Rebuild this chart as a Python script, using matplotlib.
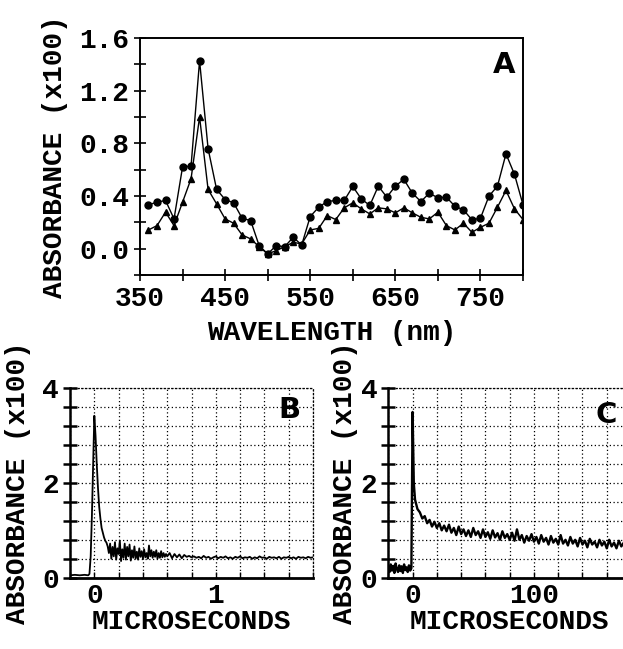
import matplotlib
matplotlib.use("Agg")
import matplotlib.pyplot as plt
from matplotlib.ticker import MultipleLocator, FixedLocator

# panel A: transient spectrum (two series)
wavelength = [360, 370, 380, 390, 400, 410, 420, 430, 440, 450, 460, 470, 480, 490, 500,
              510, 520, 530, 540, 550, 560, 570, 580, 590, 600, 610, 620, 630, 640, 650,
              660, 670, 680, 690, 700, 710, 720, 730, 740, 750, 760, 770, 780, 790, 800]
abs_circles = [0.333, 0.353, 0.366, 0.226, 0.62, 0.627, 1.427, 0.76, 0.45, 0.373, 0.348, 0.231,
               0.213, 0.023, -0.04, 0.023, 0.015, 0.086, 0.028, 0.244, 0.315, 0.358, 0.366,
               0.366, 0.472, 0.378, 0.328, 0.475, 0.391, 0.475, 0.526, 0.421, 0.358, 0.421,
               0.386, 0.391, 0.322, 0.295, 0.219, 0.231, 0.399, 0.475, 0.72, 0.564, 0.333]
abs_triangles = [0.142, 0.175, 0.277, 0.175, 0.353, 0.531, 1.0, 0.45, 0.34, 0.226, 0.193, 0.104,
                 0.074, 0.015, -0.04, -0.015, 0.015, 0.048, 0.036, 0.142, 0.154, 0.251, 0.221,
                 0.31, 0.348, 0.302, 0.264, 0.31, 0.302, 0.272, 0.31, 0.272, 0.238, 0.226,
                 0.277, 0.175, 0.142, 0.193, 0.124, 0.162, 0.193, 0.315, 0.442, 0.302, 0.221]
a_xticks = [350, 450, 550, 650, 750]
a_xminor = [400, 500, 600, 700, 800]

# panel B: fast trace (microseconds)
b_time = [-0.20, -0.16, -0.12, -0.08, -0.05, -0.04, -0.03, -0.02, -0.01, 0.00,
          0.01, 0.02, 0.03, 0.04, 0.05, 0.06, 0.07, 0.08, 0.09, 0.10, 0.11, 0.12,
          0.13, 0.14, 0.15, 0.16, 0.17, 0.18, 0.19, 0.20, 0.21, 0.22, 0.23, 0.24,
          0.25, 0.26, 0.27, 0.28, 0.29, 0.30, 0.31, 0.32, 0.33, 0.34, 0.35, 0.36,
          0.37, 0.38, 0.39, 0.40, 0.41, 0.42, 0.43, 0.44, 0.45, 0.46, 0.47, 0.48,
          0.49, 0.50, 0.51, 0.52, 0.53, 0.54, 0.55, 0.56, 0.57, 0.58, 0.59, 0.60,
          0.62, 0.64, 0.66, 0.68, 0.70, 0.72, 0.74, 0.76, 0.78, 0.80,
          0.82, 0.84, 0.86, 0.88, 0.90, 0.92, 0.94, 0.96, 0.98, 1.00,
          1.02, 1.04, 1.06, 1.08, 1.10, 1.12, 1.14, 1.16, 1.18, 1.20,
          1.22, 1.24, 1.26, 1.28, 1.30, 1.32, 1.34, 1.36, 1.38, 1.40,
          1.42, 1.44, 1.46, 1.48, 1.50, 1.52, 1.54, 1.56, 1.58, 1.60,
          1.62, 1.64, 1.66, 1.68, 1.70, 1.72, 1.74, 1.76, 1.78, 1.80]
b_abs = [0.05, 0.06, 0.05, 0.06, 0.05, 0.08, 0.45, 1.3, 2.4, 3.42,
         3.0, 2.4, 1.9, 1.5, 1.25, 1.05, 0.95, 0.85, 0.78, 0.74, 0.66, 0.52,
         0.72, 0.40, 0.65, 0.45, 0.75, 0.38, 0.62, 0.50, 0.78, 0.35, 0.60, 0.42,
         0.72, 0.38, 0.65, 0.45, 0.70, 0.36, 0.58, 0.42, 0.66, 0.40, 0.55, 0.38,
         0.62, 0.44, 0.56, 0.40, 0.60, 0.43, 0.52, 0.40, 0.68, 0.45, 0.58, 0.42,
         0.55, 0.44, 0.58, 0.40, 0.52, 0.42, 0.56, 0.43, 0.52, 0.44, 0.50, 0.45,
         0.52, 0.41, 0.50, 0.43, 0.49, 0.41, 0.48, 0.44, 0.46, 0.43,
         0.45, 0.42, 0.44, 0.41, 0.46, 0.42, 0.44, 0.40, 0.43, 0.45,
         0.41, 0.44, 0.42, 0.45, 0.41, 0.43, 0.40, 0.44, 0.42, 0.45,
         0.41, 0.43, 0.42, 0.44, 0.40, 0.43, 0.41, 0.45, 0.42, 0.43,
         0.40, 0.44, 0.42, 0.43, 0.41, 0.44, 0.40, 0.43, 0.42, 0.44,
         0.41, 0.43, 0.40, 0.44, 0.42, 0.43, 0.41, 0.44, 0.42, 0.43]

# panel C: slow trace (microseconds)
c_time = [-20, -19, -18, -17, -16, -15, -14, -13, -12, -11, -10, -9, -8, -7, -6, -5, -4, -3, -2, -1,
          0, 1, 2, 4, 6, 8, 10, 12, 14, 16, 18, 20, 22, 24, 26, 28, 30, 32, 34, 36, 38,
          40, 42, 44, 46, 48, 50, 52, 54, 56, 58, 60, 62, 64, 66, 68, 70, 72, 74, 76, 78,
          80, 82, 84, 86, 88, 90, 92, 94, 96, 98, 100, 102, 104, 106, 108, 110, 112, 114,
          116, 118, 120, 122, 124, 126, 128, 130, 132, 134, 136, 138, 140, 142, 144, 146,
          148, 150, 152, 154, 156, 158, 160, 162, 164, 166, 168, 170, 172, 174, 176, 178, 180]
c_abs = [0.22, 0.12, 0.28, 0.15, 0.25, 0.10, 0.30, 0.18, 0.12, 0.26, 0.14, 0.24, 0.10, 0.28,
         0.16, 0.22, 0.12, 0.26, 0.15, 0.20,
         3.5, 2.0, 1.65, 1.45, 1.38, 1.25, 1.30, 1.15, 1.22, 1.08, 1.18, 1.05, 1.15, 1.00,
         1.10, 0.98, 1.12, 0.95, 1.05, 0.90, 1.08,
         0.92, 1.02, 0.88, 1.00, 0.86, 1.05, 0.90, 0.98, 0.84, 1.02, 0.86, 0.96, 0.82, 1.00,
         0.85, 0.94, 0.80, 0.98, 0.84, 0.92,
         0.80, 0.95, 0.78, 1.02, 0.80, 0.90, 0.74, 0.88, 0.78, 0.92, 0.76, 0.86, 0.72, 0.90,
         0.76, 0.84, 0.70, 0.88,
         0.74, 0.82, 0.70, 0.90, 0.72, 0.80, 0.68, 0.86, 0.72, 0.80, 0.66, 0.84, 0.70, 0.78,
         0.64, 0.82,
         0.70, 0.76, 0.64, 0.80, 0.68, 0.76, 0.62, 0.80, 0.66, 0.74, 0.62, 0.78, 0.66, 0.74,
         0.62, 0.76, 0.66]

plt.rcParams['font.family'] = ['Liberation Mono', 'DejaVu Sans Mono']
plt.rcParams['font.weight'] = 'bold'
plt.rcParams['axes.labelweight'] = 'bold'

fig = plt.figure(figsize=(6.23, 6.49), dpi=100)

# ---- panel A ----
axA = fig.add_axes([0.2247, 0.5763, 0.6148, 0.3652])
axA.plot(wavelength, abs_circles, color='black', lw=1.0, marker='o', ms=5)
axA.plot(wavelength, abs_triangles, color='black', lw=1.0, marker='^', ms=4.5)
axA.set_xlim(350, 800)
axA.set_ylim(-0.2, 1.6)
axA.xaxis.set_major_locator(FixedLocator(a_xticks))
axA.xaxis.set_minor_locator(FixedLocator(a_xminor))
axA.yaxis.set_major_locator(MultipleLocator(0.4))
axA.yaxis.set_minor_locator(MultipleLocator(0.2))
axA.yaxis.set_major_formatter(plt.FormatStrFormatter('%.1f'))
axA.tick_params(which='both', direction='inout', length=8, width=1.2, labelsize=20, pad=4)
for s in axA.spines.values():
    s.set_linewidth(1.4)
axA.set_xlabel('WAVELENGTH (nm)', fontsize=20, labelpad=6)
axA.set_ylabel('ABSORBANCE (x100)', fontsize=20, labelpad=8)
axA.text(0.95, 0.886, 'A', transform=axA.transAxes, ha='center', va='center',
         fontsize=21, fontweight='heavy', family='DejaVu Sans')


def trace_axes(ax, t, a, xlim, xmajor, xminor, letter, lx, ly, lpad, lw):
    ax.plot(t, a, color='black', lw=lw)
    ax.set_xlim(*xlim)
    ax.set_ylim(0, 4)
    ax.xaxis.set_major_locator(MultipleLocator(xmajor))
    ax.xaxis.set_minor_locator(MultipleLocator(xminor))
    ax.yaxis.set_major_locator(MultipleLocator(2))
    ax.yaxis.set_minor_locator(MultipleLocator(0.4))
    ax.grid(which='both', color='black', linestyle=(0, (1, 2)), linewidth=0.9)
    ax.tick_params(axis='y', which='both', direction='inout', length=10, width=1.8,
                   labelsize=20, pad=3)
    ax.tick_params(axis='x', which='both', direction='in', length=4, width=1.0,
                   labelsize=20, pad=4)
    ax.spines['left'].set_linewidth(1.8)
    ax.spines['bottom'].set_linewidth(2.0)
    for side in ('top', 'right'):
        ax.spines[side].set_linestyle((0, (1, 2)))
        ax.spines[side].set_linewidth(0.9)
    ax.set_xlabel('MICROSECONDS', fontsize=20, labelpad=0)
    ax.set_ylabel('ABSORBANCE (x100)', fontsize=20, labelpad=lpad)
    ax.text(lx, ly, letter, transform=ax.transAxes, ha='center', va='center',
            fontsize=21, fontweight='heavy', family='DejaVu Sans')


# ---- panel B ----
axB = fig.add_axes([0.1124, 0.1099, 0.3900, 0.2918])
trace_axes(axB, b_time, b_abs, (-0.2, 1.8), 1, 0.2, 'B', 0.905, 0.885, 8, 1.3)

# ---- panel C ----
axC = fig.add_axes([0.6233, 0.1099, 0.3896, 0.2918])
trace_axes(axC, c_time, c_abs, (-20, 180), 100, 20, 'C', 0.897, 0.859, 2, 1.7)

fig.savefig('out.png', dpi=100)
